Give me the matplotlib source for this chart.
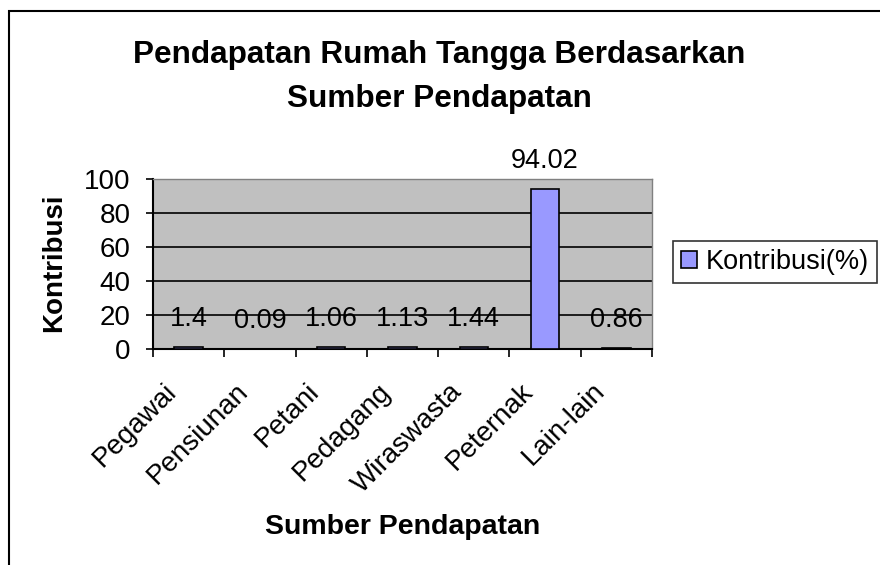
import matplotlib.pyplot as plt
from matplotlib.patches import Rectangle
import matplotlib.transforms as mtransforms
import numpy as np

plt.rcParams['font.family'] = ['Liberation Sans', 'DejaVu Sans']

# data
categories = ["Pegawai", "Pensiunan", "Petani", "Pedagang", "Wiraswasta", "Peternak", "Lain-lain"]
kontribusi = [1.4, 0.09, 1.06, 1.13, 1.44, 94.02, 0.86]
value_labels = ["1.4", "0.09", "1.06", "1.13", "1.44", "94.02", "0.86"]
y_ticks = [0, 20, 40, 60, 80, 100]

fs = 20
fig = plt.figure(figsize=(8.8, 5.65), dpi=100)
ax = fig.add_axes([153 / 880, 1 - 349 / 565, 499 / 880, 170 / 565])

# outer chart border (cut at right and bottom like the original)
fig.patches.append(Rectangle((9 / 880, -0.1), 1.2, 1 - 11 / 565 + 0.1, transform=fig.transFigure,
                             fill=False, edgecolor='black', linewidth=1.5))

x = np.arange(len(categories))
ax.set_facecolor('#C0C0C0')
ax.bar(x, kontribusi, width=0.4, color='#9999FF', edgecolor='black', linewidth=1.2,
       label='Kontribusi(%)', zorder=3)
for xi, v, lab in zip(x, kontribusi, value_labels):
    ax.annotate(lab, (xi, v), xytext=(0, 20), textcoords='offset points',
                ha='center', va='center', fontsize=19.5, zorder=4)

ax.set_xlim(-0.5, len(categories) - 0.5)
ax.set_ylim(0, 100)
ax.set_yticks(y_ticks)
ax.yaxis.grid(True, color='black', linewidth=1.2, zorder=1)
ax.set_axisbelow(True)
ax.tick_params(axis='y', labelsize=fs, length=5, width=1.2, direction='out', pad=11)

ax.set_xticks(x)
ax.set_xticklabels(categories, rotation=45, ha='right', va='top', rotation_mode='anchor', fontsize=fs)
ax.tick_params(axis='x', which='major', length=0, pad=21)
shift = mtransforms.ScaledTranslation(-25 / 100, 0, fig.dpi_scale_trans)
for t in ax.get_xticklabels():
    t.set_transform(t.get_transform() + shift)
ax.set_xticks(np.arange(-0.5, len(categories), 1), minor=True)
ax.tick_params(axis='x', which='minor', length=6, width=1.2, direction='out')

for s in ['left', 'bottom']:
    ax.spines[s].set_linewidth(1.5)
    ax.spines[s].set_color('black')
for s in ['top', 'right']:
    ax.spines[s].set_color('#808080')
    ax.spines[s].set_linewidth(1)

fig.text(439 / 880, 1 - 77 / 565, "Pendapatan Rumah Tangga Berdasarkan\nSumber Pendapatan",
         ha='center', va='center', fontsize=22.7, fontweight='bold', linespacing=1.6)
fig.text(54 / 880, 1 - 263 / 565, "Kontribusi", rotation=90, ha='center', va='center',
         fontsize=fs, fontweight='bold')
fig.text(403 / 880, 1 - 527 / 565, "Sumber Pendapatan", ha='center', va='center',
         fontsize=20.5, fontweight='bold')

leg = fig.legend(loc='center left', bbox_to_anchor=(673 / 880, 1 - 262 / 565), fontsize=19.5,
                 frameon=True, fancybox=False, edgecolor='black', handlelength=0.6,
                 handleheight=0.6, handletextpad=0.3, borderpad=0.3, borderaxespad=0)
leg.get_frame().set_linewidth(1.2)

plt.savefig("out.png", dpi=100)
